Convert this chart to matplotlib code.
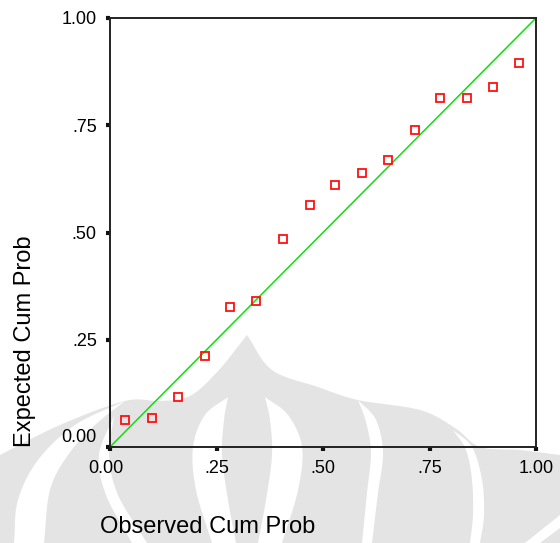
import numpy as np
import matplotlib
matplotlib.use("Agg")
import matplotlib.pyplot as plt
from matplotlib.patches import Polygon
from matplotlib.transforms import ScaledTranslation

plt.rcParams["font.family"] = ["Liberation Sans", "DejaVu Sans"]

# P-P plot values
observed = [0.035, 0.098, 0.160, 0.223, 0.282, 0.343, 0.407, 0.469,
            0.528, 0.591, 0.653, 0.716, 0.775, 0.837, 0.900, 0.961]
expected = [0.063, 0.067, 0.116, 0.212, 0.327, 0.340, 0.486, 0.564,
            0.610, 0.639, 0.668, 0.738, 0.813, 0.813, 0.838, 0.896]
ticks = [0, 0.25, 0.5, 0.75, 1.0]
tick_labels = ["0.00", ".25", ".50", ".75", "1.00"]

GRAY = "#e4e4e4"


def smooth(pts, n=16):
    # catmull-rom through the given outline points
    pts = np.array(pts, float)
    p = np.vstack([2 * pts[0] - pts[1], pts, 2 * pts[-1] - pts[-2]])
    out = []
    t = np.linspace(0, 1, n, endpoint=False)[:, None]
    for i in range(1, len(p) - 2):
        p0, p1, p2, p3 = p[i - 1], p[i], p[i + 1], p[i + 2]
        seg = 0.5 * (2 * p1 + (-p0 + p2) * t
                     + (2 * p0 - 5 * p1 + 4 * p2 - p3) * t ** 2
                     + (-p0 + 3 * p1 - 3 * p2 + p3) * t ** 3)
        out.append(seg)
    out.append(pts[-1:])
    return np.vstack(out)


def crescent(outer, inner):
    return np.vstack([smooth(outer), smooth(inner)[::-1]])


fig = plt.figure(figsize=(5.6, 5.43), dpi=100)

# watermark behind the chart
bg = fig.add_axes([0, 0, 1, 1], zorder=0)
bg.set_xlim(0, 560)
bg.set_ylim(543, 0)
bg.axis("off")

left_top = [(0, 455), (60, 425), (125, 401), (160, 401), (190, 396),
            (218, 371), (247, 335)]
right_top = [(247, 335), (272, 370), (318, 387), (358, 400), (420, 410),
             (455, 428), (480, 447), (520, 450), (560, 455)]
body = np.vstack([smooth(left_top), smooth(right_top),
                  [(560, 543), (0, 543)]])
bg.add_patch(Polygon(body, closed=True, fc=GRAY, ec="none"))

white_bands = [
    crescent([(125, 401), (75, 425), (38, 460), (18, 500), (14, 543)],
             [(125, 401), (95, 425), (68, 455), (50, 490), (44, 543)]),
    crescent([(114, 416), (99, 455), (106, 495), (132, 543)],
             [(114, 416), (109, 455), (118, 495), (147, 543)]),
    crescent([(228, 397), (205, 415), (193, 447), (196, 490), (212, 543)],
             [(228, 397), (224, 420), (222, 455), (228, 500), (236, 543)]),
    crescent([(265, 397), (288, 415), (302, 447), (298, 490), (282, 543)],
             [(265, 397), (270, 420), (272, 455), (266, 500), (258, 543)]),
    crescent([(358, 400), (376, 420), (383, 453), (378, 493), (372, 543)],
             [(358, 400), (366, 422), (371, 453), (367, 493), (362, 543)]),
    crescent([(453, 430), (472, 447), (482, 480), (484, 515), (480, 543)],
             [(453, 430), (466, 450), (472, 480), (473, 515), (470, 543)]),
    np.array([(560, 515), (560, 528), (540, 543), (525, 543)]),
]
for band in white_bands:
    bg.add_patch(Polygon(band, closed=True, fc="white", ec="none"))

# main chart
ax = fig.add_axes([110 / 560, 96 / 543, 426 / 560, 429 / 543], zorder=1)
ax.set_facecolor("none")
ax.plot([0, 1], [0, 1], color="#11dd11", lw=1.1, zorder=2)
ax.plot(observed, expected, ls="none", marker="s", ms=6.3, mfc="none",
        mec="#ff1010", mew=1.3, zorder=3, clip_on=False)

ax.set_xlim(0, 1)
ax.set_ylim(0, 1)
ax.set_xticks(ticks)
ax.set_xticklabels(tick_labels)
ax.set_yticks(ticks)
ax.set_yticklabels(tick_labels)
ax.tick_params(direction="out", length=3, width=3, color="#111111",
               labelsize=13, pad=6.5, top=False, right=False)
for sp in ax.spines.values():
    sp.set_linewidth(1.4)
    sp.set_color("#222222")

# SPSS lifts the lower y label and nudges the first x label
lab = ax.get_yticklabels()[0]
lab.set_transform(lab.get_transform() + ScaledTranslation(0, 0.12, fig.dpi_scale_trans))
lab = ax.get_xticklabels()[0]
lab.set_transform(lab.get_transform() + ScaledTranslation(-0.04, 0, fig.dpi_scale_trans))

fig.text(100 / 560, 1 - 527 / 543, "Observed Cum Prob", fontsize=17,
         ha="left", va="center")
fig.text(25 / 560, 96 / 543, "Expected Cum Prob", fontsize=17,
         rotation=90, ha="center", va="bottom")

fig.savefig("out.png", dpi=100)
